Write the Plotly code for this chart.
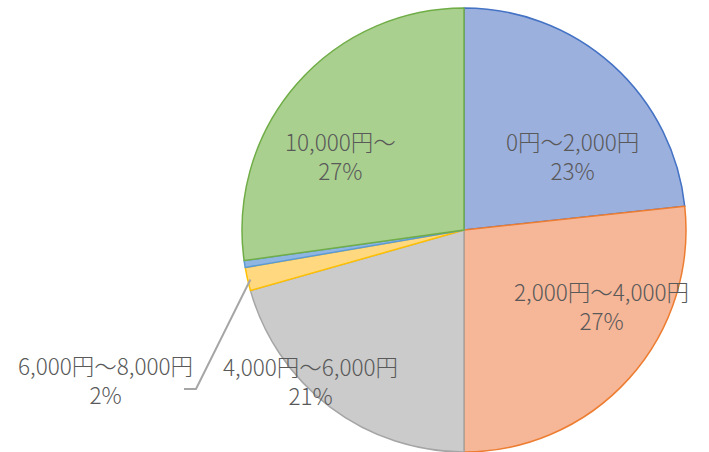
import math
import plotly.graph_objects as go

# ---- data ----
categories = ["0円～2,000円", "2,000円～4,000円", "4,000円～6,000円",
              "6,000円～8,000円", "8,000円～10,000円", "10,000円～"]
shares = [23.3, 26.7, 20.6, 1.7, 0.5, 27.2]
show_label = [True, True, True, True, False, True]

# ---- style ----
W, H = 709, 452
fill_colors = ["#9cb0de", "#f6b698", "#cbcbcb", "#ffd880", "#8fb6e2", "#a9d08f"]
line_colors = ["#4472C4", "#ED7D31", "#A5A5A5", "#FFC000", "#5B9BD5", "#70AD47"]
CX, CY, R = 464, 231, 223  # pie centre / radius in pixels
# label block centres (pixels), per category
label_px = [(572, 155), (601, 305), (310, 380), (106, 379), None, (340, 155)]
FONT = "Noto Sans CJK JP, sans-serif"
TXT = "#595959"

xd = [(CX - R) / W, (CX + R) / W]
yd = [1 - (CY + R) / H, 1 - (CY - R) / H]
yd[0] = max(0.0, yd[0])

fig = go.Figure(go.Pie(
    labels=categories,
    values=shares,
    sort=False,
    direction="clockwise",
    rotation=0,
    textinfo="none",
    hoverinfo="label+percent",
    marker=dict(colors=fill_colors, line=dict(color=line_colors, width=1.5)),
    domain=dict(x=xd, y=yd),
    showlegend=False,
))

total = sum(shares)
annotations = []
for i, (cat, v) in enumerate(zip(categories, shares)):
    if not show_label[i] or label_px[i] is None:
        continue
    px, py = label_px[i]
    annotations.append(dict(
        x=px / W, y=1 - py / H, xref="paper", yref="paper",
        text=f"{cat}<br>{round(v / total * 100)}%",
        showarrow=False, xanchor="center", yanchor="middle", align="center",
        font=dict(family=FONT, size=22.5, color=TXT, weight=300),
    ))

# leader line for the small 6,000円～8,000円 slice
idx = 3
start = sum(shares[:idx]) / total
mid = (start + shares[idx] / total / 2) * 2 * math.pi
sx = CX + math.sin(mid) * (R - 4)
sy = CY - math.cos(mid) * (R - 4)
elbow = (196, 389)
end = (184, 389)
path = f"M {sx / W} {1 - sy / H} L {elbow[0] / W} {1 - elbow[1] / H} L {end[0] / W} {1 - end[1] / H}"
shapes = [dict(type="path", xref="paper", yref="paper", path=path,
               line=dict(color="#a6a6a6", width=2))]

fig.update_layout(
    width=W, height=H,
    margin=dict(l=0, r=0, t=0, b=0),
    paper_bgcolor="white",
    plot_bgcolor="white",
    annotations=annotations,
    shapes=shapes,
)

fig.write_html("out.html", config={"displayModeBar": False},
               post_script="document.body.style.margin='0';")
